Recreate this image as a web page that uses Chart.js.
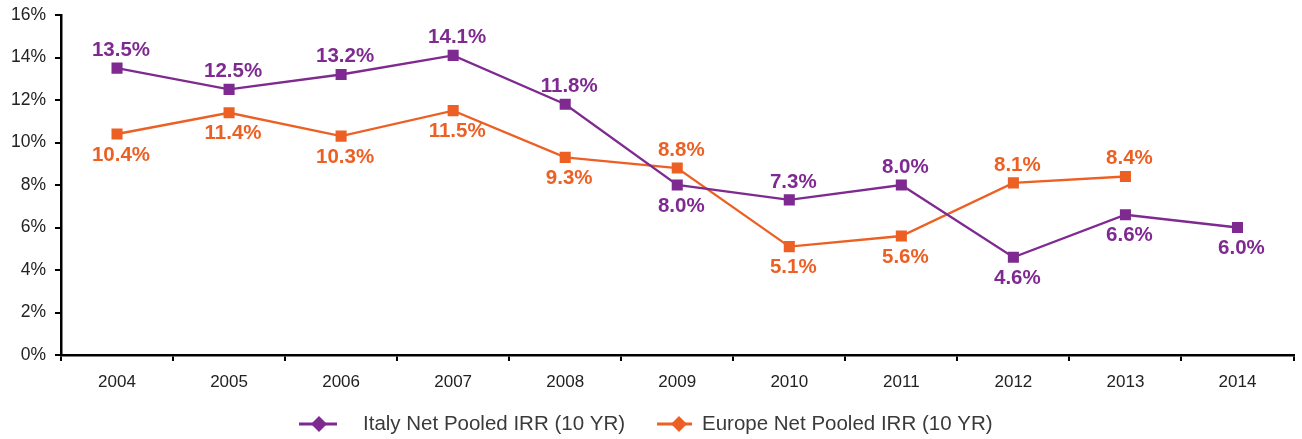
<!DOCTYPE html>
<html><head><meta charset="utf-8">
<script src="https://cdn.jsdelivr.net/npm/chart.js@4/dist/chart.umd.min.js"></script>
<style>html,body{margin:0;padding:0;background:#fff}#wrap{width:1302px;height:439px;position:relative}</style>
</head><body><div id="wrap"><canvas id="c"></canvas></div>
<script>
const years = ['2004','2005','2006','2007','2008','2009','2010','2011','2012','2013','2014'];
const italyIRR = [13.5,12.5,13.2,14.1,11.8,8.0,7.3,8.0,4.6,6.6,6.0];
const europeIRR = [10.4,11.4,10.3,11.5,9.3,8.8,5.1,5.6,8.1,8.4,null];
const italyLabelSide = ['up','up','up','up','up','down','up','up','down','down','down'];
const europeLabelSide = ['down','down','down','down','down','up','down','down','up','up',null];
const seriesNames = ['Italy Net Pooled IRR (10 YR)','Europe Net Pooled IRR (10 YR)'];
const PURPLE = '#7E2A90', ORANGE = '#ED6024';
const FONT = '"Liberation Sans", Arial, sans-serif';

const labelPlugin = {
  id:'pointLabels',
  afterDatasetsDraw(chart){
    const ctx = chart.ctx;
    const sides = [italyLabelSide, europeLabelSide];
    chart.data.datasets.forEach((ds,di)=>{
      const meta = chart.getDatasetMeta(di);
      meta.data.forEach((pt,i)=>{
        const v = ds.data[i];
        if(v==null) return;
        const side = sides[di][i];
        ctx.save();
        ctx.font = 'bold 20.5px ' + FONT;
        ctx.fillStyle = ds.borderColor;
        ctx.textAlign = 'center';
        ctx.textBaseline = 'middle';
        ctx.fillText(v.toFixed(1)+'%', pt.x+4, pt.y + (side==='up' ? -18 : 21));
        ctx.restore();
      });
    });
  }
};

const legendPlugin = {
  id:'customLegend',
  afterDraw(chart){
    const ctx = chart.ctx;
    const y = 424;
    const items = [
      {color:PURPLE, x0:299, x1:337, dx:319, tx:363, text:seriesNames[0]},
      {color:ORANGE, x0:657, x1:692, dx:679, tx:702, text:seriesNames[1]}
    ];
    items.forEach(it=>{
      ctx.save();
      ctx.strokeStyle = it.color; ctx.lineWidth = 3;
      ctx.beginPath(); ctx.moveTo(it.x0,y); ctx.lineTo(it.x1,y); ctx.stroke();
      ctx.fillStyle = it.color;
      ctx.beginPath();
      ctx.moveTo(it.dx, y-8); ctx.lineTo(it.dx+8,y); ctx.lineTo(it.dx,y+8); ctx.lineTo(it.dx-8,y); ctx.closePath(); ctx.fill();
      ctx.font = '20.5px ' + FONT;
      ctx.fillStyle = '#3a3a3a';
      ctx.textBaseline = 'middle'; ctx.textAlign='left';
      ctx.fillText(it.text, it.tx, y);
      ctx.restore();
    });
  }
};

new Chart(document.getElementById('c'), {
  type:'line',
  data:{
    labels: years,
    datasets:[
      {label:seriesNames[0], data:italyIRR, borderColor:PURPLE, backgroundColor:PURPLE, borderWidth:2.3,
       pointStyle:'rect', pointRadius:6.2, pointHoverRadius:6.2, tension:0},
      {label:seriesNames[1], data:europeIRR, borderColor:ORANGE, backgroundColor:ORANGE, borderWidth:2.3,
       pointStyle:'rect', pointRadius:6.2, pointHoverRadius:6.2, tension:0}
    ]
  },
  options:{
    responsive:true, maintainAspectRatio:false, animation:false,
    layout:{padding:{top:15,right:4,bottom:0,left:0}},
    plugins:{legend:{display:false}, tooltip:{enabled:false}},
    scales:{
      x:{
        offset:true,
        grid:{offset:true, drawOnChartArea:false, drawTicks:true, tickLength:6, color:'#000', lineWidth:2},
        border:{display:true, color:'#000', width:2.5},
        ticks:{color:'#222', font:{size:17, family:FONT}, padding:11},
        afterFit(s){ s.height = 84; }
      },
      y:{
        min:0, max:16,
        grid:{drawOnChartArea:false, drawTicks:true, tickLength:6, color:'#000', lineWidth:2},
        border:{display:true, color:'#000', width:2.5},
        ticks:{stepSize:2, color:'#222', font:{size:17.5, family:FONT}, padding:9,
          callback:v=>v+'%'},
        afterFit(s){ s.width = 61; s.paddingTop = 0; s.paddingBottom = 0; }
      }
    }
  },
  plugins:[labelPlugin, legendPlugin]
});
</script></body></html>
